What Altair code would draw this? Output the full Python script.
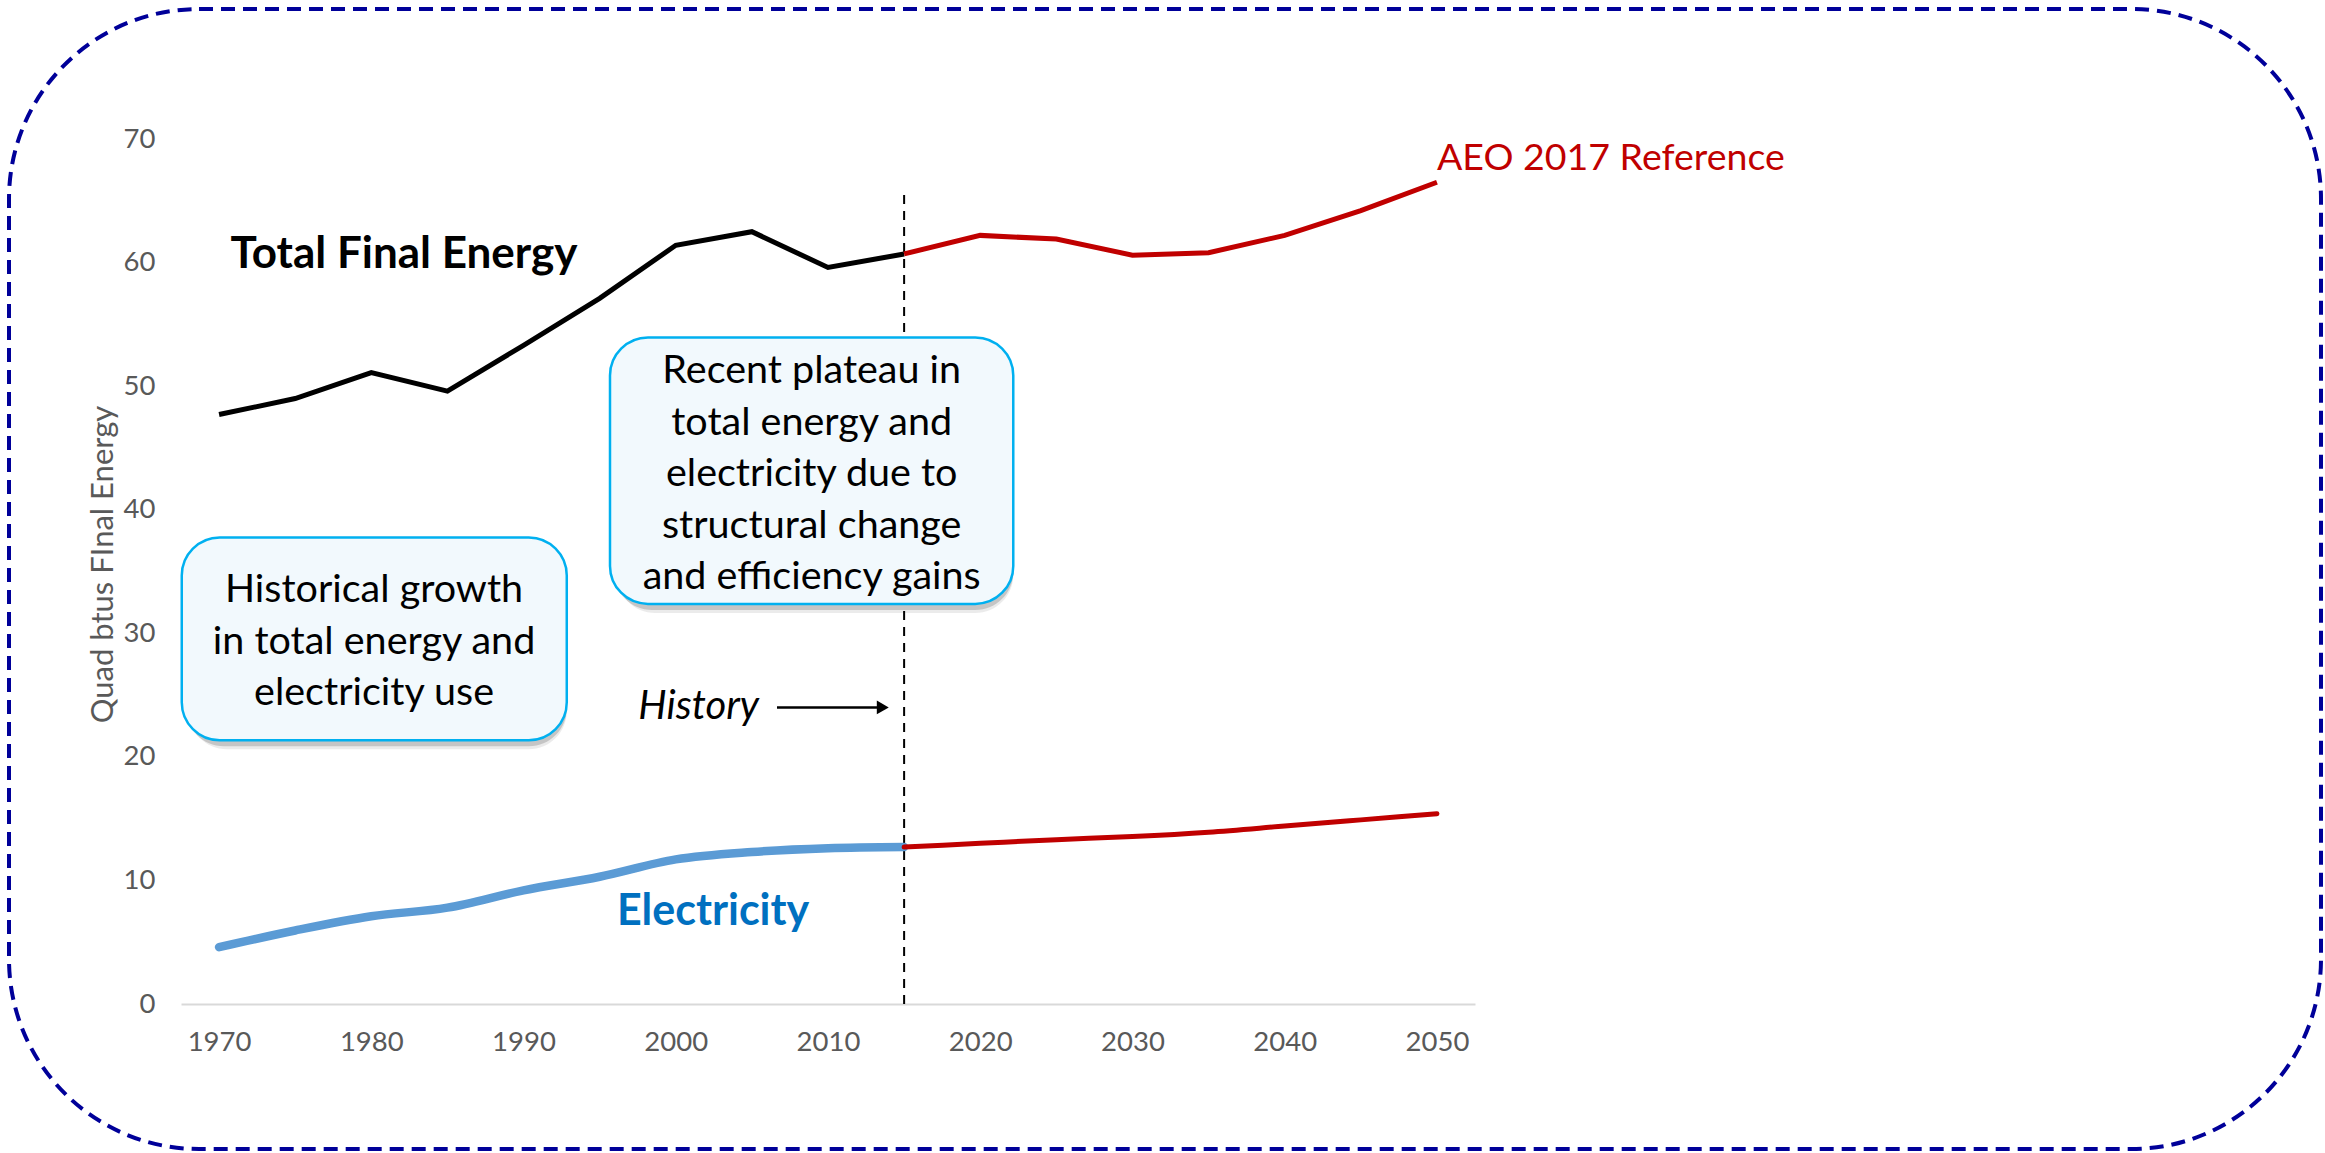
import altair as alt
import pandas as pd

# ---- data ----
years = [1970, 1975, 1980, 1985, 1990, 1995, 2000, 2005, 2010, 2015,
         2020, 2025, 2030, 2035, 2040, 2045, 2050]
total_energy = [47.7, 49.0, 51.1, 49.6, 53.3, 57.1, 61.4, 62.5, 59.6, 60.7,
                62.2, 61.9, 60.6, 60.8, 62.2, 64.2, 66.5]
electricity = [4.6, 5.95, 7.1, 7.8, 9.2, 10.3, 11.7, 12.3, 12.6, 12.7,
               13.0, 13.3, 13.55, 13.9, 14.4, 14.9, 15.4]
split_year = 2015
x_ticks = [1970, 1980, 1990, 2000, 2010, 2020, 2030, 2040, 2050]
y_ticks = [0, 10, 20, 30, 40, 50, 60, 70]

FONT = "Lato"

rows = []
for yr, t, e in zip(years, total_energy, electricity):
    if yr <= split_year:
        rows.append(dict(year=yr, value=t, series="total_hist"))
        rows.append(dict(year=yr, value=e, series="elec_hist"))
    if yr >= split_year:
        rows.append(dict(year=yr, value=t, series="total_proj"))
        rows.append(dict(year=yr, value=e, series="elec_proj"))
df = pd.DataFrame(rows)

xscale = alt.Scale(domain=[1967.5, 2052.5], nice=False, zero=False)
yscale = alt.Scale(domain=[0, 70], nice=False)

X_AXIS = alt.Axis(values=x_ticks, format="d", grid=False, ticks=False, tickSize=0,
                  domain=True, domainColor="#D9D9D9", domainWidth=2,
                  labelPadding=24, labelFontSize=27.5, labelColor="#595959",
                  labelFont=FONT, title=None)
Y_AXIS = alt.Axis(values=y_ticks, grid=False, ticks=False, tickSize=0, domain=False,
                  labelPadding=26, labelFontSize=27.5, labelColor="#595959",
                  labelFont=FONT, title="Quad btus FInal Energy",
                  titleX=-78, titleY=425, titleAngle=270, titleAlign="center",
                  titleBaseline="middle", titleFontSize=31, titleFontWeight="normal",
                  titleColor="#595959", titleFont=FONT)


def xq(field):
    return alt.X(field, type="quantitative", scale=xscale, axis=X_AXIS)


def yq(field):
    return alt.Y(field, type="quantitative", scale=yscale, axis=Y_AXIS)


one = pd.DataFrame({"a": [0]})

# decorative dashed rounded frame around the whole picture
frame = alt.Chart(one).mark_rect(
    cornerRadius=190, fillOpacity=0, stroke="#000099", strokeWidth=4,
    strokeDash=[14, 8]
).encode(x=alt.value(-172), x2=alt.value(2140), y=alt.value(-130), y2=alt.value(1010))

# annotation boxes (in data coordinates)
boxes = pd.DataFrame({
    "x0": [1967.55, 1995.68], "x1": [1992.84, 2022.17],
    "y0": [21.34, 32.38], "y1": [37.75, 53.94],
})
shadow = alt.Chart(boxes).mark_rect(
    cornerRadius=38, fill="#000000", opacity=0.16, xOffset=4, yOffset=6
).encode(x=xq("x0"), x2="x1", y=yq("y0"), y2="y1")
shadow2 = alt.Chart(boxes).mark_rect(
    cornerRadius=38, fill="#000000", opacity=0.08, xOffset=7, yOffset=9
).encode(x=xq("x0"), x2="x1", y=yq("y0"), y2="y1")
box = alt.Chart(boxes).mark_rect(
    cornerRadius=38, fill="#F2F9FD", stroke="#00B0F0", strokeWidth=2.5
).encode(x=xq("x0"), x2="x1", y=yq("y0"), y2="y1")

# y is the centre of the first line of each box
box_text = pd.DataFrame({
    "x": [1980.18, 2008.93],
    "y": [33.48, 51.21],
    "label": ["Historical growth\nin total energy and\nelectricity use",
              "Recent plateau in\ntotal energy and\nelectricity due to\nstructural change\nand efficiency gains"],
})
box_label = alt.Chart(box_text).mark_text(
    font=FONT, fontSize=39.5, color="#000000", align="center", baseline="middle",
    lineBreak="\n", lineHeight=51.5
).encode(x=xq("x"), y=yq("y"), text="label:N")

# vertical dashed divider at the last historical year
divider_df = pd.DataFrame({"x": [split_year], "y0": [0], "y1": [65.6]})
divider = alt.Chart(divider_df).mark_rule(
    color="#000000", strokeWidth=2, strokeDash=[9, 7]
).encode(x=xq("x"), y=yq("y0"), y2="y1")

# lines
total_hist = alt.Chart(df[df.series == "total_hist"]).mark_line(
    color="#000000", strokeWidth=5
).encode(x=xq("year"), y=yq("value"))
total_proj = alt.Chart(df[df.series == "total_proj"]).mark_line(
    color="#C00000", strokeWidth=5
).encode(x=xq("year"), y=yq("value"))
elec_hist = alt.Chart(df[df.series == "elec_hist"]).mark_line(
    color="#5B9BD5", strokeWidth=8.5, interpolate="monotone", strokeCap="round"
).encode(x=xq("year"), y=yq("value"))
elec_proj = alt.Chart(df[df.series == "elec_proj"]).mark_line(
    color="#C00000", strokeWidth=5, interpolate="monotone", strokeCap="round"
).encode(x=xq("year"), y=yq("value"))

# text labels
labels = pd.DataFrame({
    "x": [1982.15, 2002.45],
    "y": [60.6, 7.43],
    "label": ["Total Final Energy", "Electricity"],
    "color": ["#000000", "#0070C0"],
    "size": [44, 43],
})
bold_labels = alt.Chart(labels).mark_text(
    font=FONT, fontWeight="bold", align="center", baseline="middle"
).encode(x=xq("x"), y=yq("y"), text="label:N",
         color=alt.Color("color:N", scale=None),
         size=alt.Size("size:Q", scale=None))

aeo = alt.Chart(pd.DataFrame({"x": [2050.0], "y": [68.4], "label": ["AEO 2017 Reference"]})).mark_text(
    font=FONT, fontSize=37.5, color="#C00000", align="left", baseline="middle"
).encode(x=xq("x"), y=yq("y"), text="label:N")

history = alt.Chart(pd.DataFrame({"x": [2005.47], "y": [24.0], "label": ["History"]})).mark_text(
    font=FONT, fontSize=40, fontStyle="italic", color="#000000", align="right", baseline="middle"
).encode(x=xq("x"), y=yq("y"), text="label:N")

arrow_df = pd.DataFrame({"x0": [2006.65], "x1": [2013.3], "y": [24.0]})
arrow_shaft = alt.Chart(arrow_df).mark_rule(color="#000000", strokeWidth=2.5).encode(
    x=xq("x0"), x2="x1", y=yq("y"))
arrow_head = alt.Chart(pd.DataFrame({"x": [2013.6], "y": [24.0]})).mark_point(
    shape="triangle-right", filled=True, color="#000000", size=190, opacity=1
).encode(x=xq("x"), y=yq("y"))

chart = alt.layer(
    frame, shadow2, shadow, divider, box, box_label,
    total_hist, total_proj, elec_hist, elec_proj,
    bold_labels, aeo, history, arrow_shaft, arrow_head,
).properties(
    width=1294, height=865,
    padding={"left": 181, "top": 139, "right": 850, "bottom": 149},
    autosize=alt.AutoSizeParams(type="none"),
    background="#FFFFFF",
).configure_view(stroke=None)

chart.save("out.html", embed_options={"renderer": "svg", "actions": False})
